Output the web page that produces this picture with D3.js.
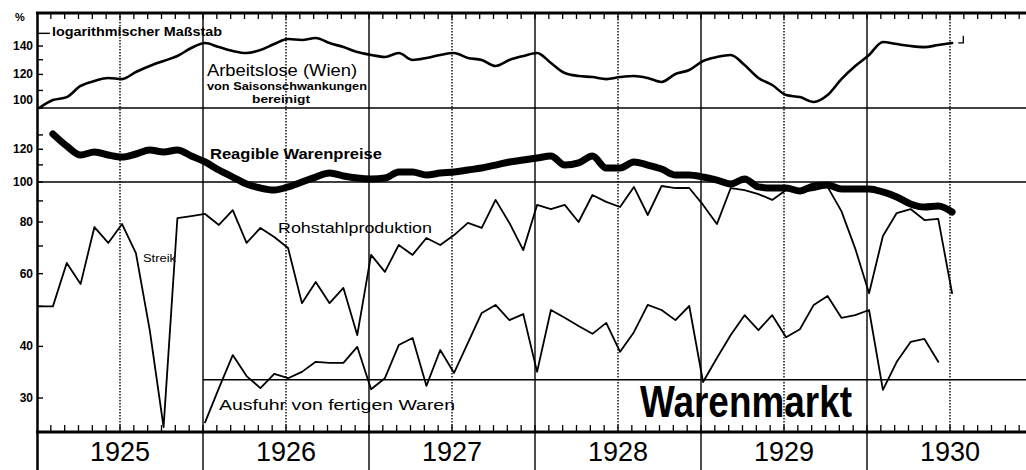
<!DOCTYPE html>
<html>
<head>
<meta charset="utf-8">
<script src="https://cdn.jsdelivr.net/npm/d3@7"></script>
<style>
  html, body { margin: 0; padding: 0; background: #fff; }
  svg { display: block; }
  text { font-family: "Liberation Sans", Arial, sans-serif; fill: #000; }
</style>
</head>
<body>
<svg id="chart" width="1026" height="470"></svg>
<script>
// monthly values, index 0 = January 1925
const years = ['1925', '1926', '1927', '1928', '1929', '1930'];

const arbeitslose = [100, 104.4, 106.1, 112.7, 115.8, 117.7, 117.0, 121.6, 125.6, 129.1, 132.6, 138.5,
    142.3, 139.2, 136.3, 134.8, 137.0, 141.5, 145.4, 144.7, 146.3, 142.3, 139.2, 135.5,
    133.4, 131.9, 134.8, 129.8, 131.2, 133.4, 134.8, 131.2, 129.8, 125.6, 129.8, 132.6,
    134.8, 127.7, 120.9, 119.0, 118.3, 117.0, 118.3, 119.0, 117.7, 115.2, 120.3, 122.9,
    129.1, 131.9, 133.4, 126.3, 117.7, 113.3, 107.3, 106.1, 103.3, 107.3, 117.0, 125.6,
    133.4, 143.1, 141.5, 140.0, 139.2, 140.8, 142.3];

// starts February 1925
const warenpreise = [130.7, 122.2, 116.2, 118.2, 116.2, 114.9, 116.9, 119.5, 118.2, 119.5, 115.6,
    111.8, 106.9, 102.8, 98.9, 96.7, 95.6, 97.3, 100, 102.8, 105.1, 103.4, 102.2,
    101.7, 102.2, 105.7, 105.7, 104.0, 105.1, 105.7, 106.9, 108.1, 109.9, 111.8, 113.0,
    114.3, 115.6, 109.9, 111.2, 115.6, 108.1, 108.1, 111.8, 109.9, 107.5, 104.0, 104.0,
    102.8, 101.1, 98.9, 101.7, 97.3, 96.7, 96.7, 95.1, 97.8, 98.3, 96.2, 96.2,
    96.2, 94.6, 92.0, 88.5, 87.0, 87.5, 84.6];

const rohstahl = [50, 50, 63.7, 56.6, 77.8, 71.2, 79.1, 67.3, 43.8, 25.5, 81.8, 82.7,
    83.7, 78.7, 85.5, 71.2, 77.4, 73.6, 69.2, 50.9, 57.3, 50.9, 55.4, 42.6,
    66.6, 60.6, 70.4, 66.6, 73.2, 70.4, 74.4, 79.6, 77.4, 90.5, 79.6, 68.4,
    88.0, 86.0, 88.0, 80.0, 93.0, 89.5, 87.0, 97.3, 83.2, 97.8, 96.7, 96.7,
    88.0, 79.1, 96.7, 95.6, 93.5, 90.5, 95.6, 94.6, 95.6, 97.3, 85.0, 69.0,
    53.8, 74.0, 84.1, 86.0, 80.9, 81.4, 53.8];

// starts January 1926
const ausfuhr = [26.2, 31.7, 38.1, 33.9, 31.7, 34.3, 33.5, 34.7, 36.7, 36.5, 36.5, 39.9,
    31.5, 33.5, 40.3, 41.9, 32.1, 39.2, 34.5, 40.8, 48.2, 50.4, 46.3, 47.9,
    34.7, 49.0, 46.9, 44.8, 42.9, 45.6, 38.8, 43.3, 50.4, 49.0, 46.3, 50.1,
    32.8, 37.5, 42.6, 47.6, 43.8, 47.6, 42.1, 44.0, 50.4, 53.0, 46.9, 47.6,
    49.0, 31.4, 36.7, 41.0, 41.7, 36.7];
const ausfuhrBasis = 33.2;

const topTicks = [150, 140, 130, 120, 110, 100];
const topLabels = [140, 120, 100];
const lowTicks = [130, 120, 110, 100, 90, 80, 70, 60, 50, 40, 30];
const lowLabels = [120, 100, 80, 60, 40, 30];

const svg = d3.select('#chart');
const width = 1026;
const height = 470;
const frameTop = 13;
const axisY = 432;

const x = d3.scaleLinear().domain([0, 72]).range([37, 1033]);
const yTop = d3.scaleLog().domain([100, 150]).range([108, 108 - 424 * Math.log10(1.5)]);
const yLow = d3.scaleLog().domain([30, 100]).range([398, 182]);

const g = svg.append('g');

function hline(y, x1, x2, w) {
    g.append('line').attr('x1', x1).attr('x2', x2).attr('y1', y).attr('y2', y)
        .attr('stroke', '#000').attr('stroke-width', w);
}
function vline(xx, y1, y2, w, dash) {
    g.append('line').attr('x1', xx).attr('x2', xx).attr('y1', y1).attr('y2', y2)
        .attr('stroke', '#000').attr('stroke-width', w)
        .attr('stroke-dasharray', dash || null);
}

// month ticks along top border and bottom axis
d3.range(1, 72).forEach(k => {
    vline(x(k), frameTop, frameTop + 6, 1.3);
    vline(x(k), axisY - 7, axisY, 1.3);
});

// half-year dotted, year solid
years.forEach((y, i) => vline(x(i * 12 + 6), frameTop, axisY, 1.4, '1.5,1.5'));
d3.range(1, 6).forEach(i => vline(x(i * 12), frameTop, height, 1.4));

// frame and reference lines
hline(frameTop, 36, width, 3);
hline(yTop(100), 37, width, 1.6);
hline(yLow(100), 37, width, 1.6);
hline(yLow(ausfuhrBasis), x(12), width, 1.4);
hline(axisY, 36, width, 3);
vline(37.5, frameTop - 1, height, 2.5);

// left scale ticks and labels
topTicks.forEach(v => hline(yTop(v), 37, v === 150 ? 50 : 43, 1.4));
lowTicks.forEach(v => hline(yLow(v), 37, 43, 1.4));

g.selectAll('.tl').data(topLabels).enter().append('text')
    .attr('x', 33).attr('y', d => d === 100 ? yTop(d) - 8 : yTop(d))
    .attr('dominant-baseline', 'central').attr('text-anchor', 'end')
    .attr('font-size', 12).attr('font-weight', 'bold').text(d => d);
g.selectAll('.ll').data(lowLabels).enter().append('text')
    .attr('x', 33).attr('y', d => yLow(d))
    .attr('dominant-baseline', 'central').attr('text-anchor', 'end')
    .attr('font-size', 12).attr('font-weight', 'bold').text(d => d);
g.append('text').attr('x', 20).attr('y', 21).attr('text-anchor', 'middle')
    .attr('font-size', 11).attr('font-weight', 'bold').text('%');

// year labels
g.selectAll('.yr').data(years).enter().append('text')
    .attr('x', (d, i) => x(i * 12 + 6)).attr('y', 461)
    .attr('text-anchor', 'middle').attr('font-size', 27).text(d => d);

// series
const off = 0.15;
function series(data, start, yScale, w, curve) {
    const line = d3.line()
        .x((d, i) => x(start + i + off))
        .y(d => yScale(d))
        .curve(curve || d3.curveLinear);
    g.append('path').datum(data).attr('d', line)
        .attr('fill', 'none').attr('stroke', '#000').attr('stroke-width', w)
        .attr('stroke-linejoin', 'round').attr('stroke-linecap', 'round');
}
series(arbeitslose, 0, yTop, 2.6, d3.curveMonotoneX);
series(rohstahl, 0, yLow, 1.8);
series(ausfuhr, 12, yLow, 1.8);
series(warenpreise, 1, yLow, 7, d3.curveMonotoneX);

// end mark of unemployment curve
g.append('path').attr('d', `M${x(66.6)},${yTop(142.5)} h5 v-7`)
    .attr('fill', 'none').attr('stroke', '#000').attr('stroke-width', 1.3);

// annotations
function label(t, xx, yy, size, len, weight) {
    g.append('text').attr('x', xx).attr('y', yy).attr('font-size', size)
        .attr('font-weight', weight || 'bold')
        .attr('textLength', len).attr('lengthAdjust', 'spacingAndGlyphs').text(t);
}
label('logarithmischer Maßstab', 52, 36, 12, 170);
label('Arbeitslose (Wien)', 207, 76, 16, 150, 'normal');
label('von Saisonschwankungen', 207, 90, 10.5, 160);
label('bereinigt', 252, 103, 10.5, 58);
label('Reagible Warenpreise', 210, 159, 15, 172);
label('Rohstahlproduktion', 278, 233, 15, 154, 'normal');
label('Streik', 143, 262, 10, 33, 'normal');
label('Ausfuhr von fertigen Waren', 219, 410, 14, 236, 'normal');
label('Warenmarkt', 640, 417, 45, 212, 'bold');
</script>
</body>
</html>
